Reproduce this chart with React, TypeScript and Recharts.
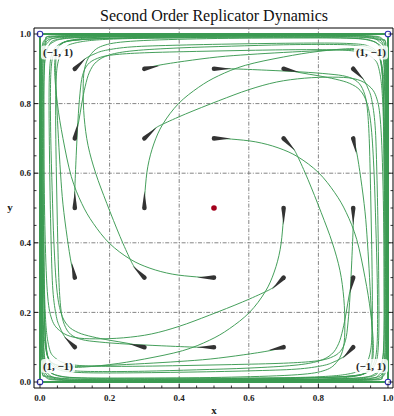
import React from "react";
import {
  ComposedChart,
  Line,
  Scatter,
  XAxis,
  YAxis,
  ReferenceLine,
} from "recharts";

type Pt = [number, number];

// trajectories, named by start point (x*10, y*10)
const path_5_3: Pt[] = [[0.5,0.3],[0.45,0.302],[0.38,0.31],[0.316,0.327],[0.259,0.353],[0.2,0.398],[0.153,0.456],[0.12,0.513],[0.09,0.59],[0.066,0.7],[0.05,0.8],[0.042,0.9],[0.05,0.955],[0.08,0.98],[0.2,0.992],[0.5,0.995],[0.85,0.996],[0.975,0.985],[0.993,0.94],[0.997,0.6]];
const path_3_5: Pt[] = [[0.3,0.5],[0.302,0.55],[0.31,0.62],[0.327,0.684],[0.353,0.741],[0.398,0.8],[0.456,0.847],[0.513,0.88],[0.59,0.91],[0.7,0.934],[0.8,0.95],[0.9,0.958],[0.955,0.95],[0.98,0.92],[0.992,0.8],[0.995,0.5],[0.996,0.15],[0.985,0.025],[0.94,0.007],[0.6,0.003]];
const path_5_7: Pt[] = [[0.5,0.7],[0.55,0.698],[0.62,0.69],[0.684,0.673],[0.741,0.647],[0.8,0.602],[0.847,0.544],[0.88,0.487],[0.91,0.41],[0.934,0.3],[0.95,0.2],[0.958,0.1],[0.95,0.045],[0.92,0.02],[0.8,0.008],[0.5,0.005],[0.15,0.004],[0.025,0.015],[0.007,0.06],[0.003,0.4]];
const path_7_5: Pt[] = [[0.7,0.5],[0.698,0.45],[0.69,0.38],[0.673,0.316],[0.647,0.259],[0.602,0.2],[0.544,0.153],[0.487,0.12],[0.41,0.09],[0.3,0.066],[0.2,0.05],[0.1,0.042],[0.045,0.05],[0.02,0.08],[0.008,0.2],[0.005,0.5],[0.004,0.85],[0.015,0.975],[0.06,0.993],[0.4,0.997]];

const path_3_3: Pt[] = [[0.3,0.3],[0.285,0.315],[0.271,0.331],[0.259,0.353],[0.23,0.418],[0.192,0.513],[0.16,0.6],[0.138,0.68],[0.127,0.76],[0.124,0.84],[0.128,0.9],[0.145,0.94],[0.18,0.966],[0.26,0.979],[0.45,0.986],[0.7,0.989],[0.9,0.988],[0.965,0.975],[0.986,0.94],[0.992,0.8],[0.995,0.4]];
const path_3_7: Pt[] = [[0.3,0.7],[0.315,0.715],[0.331,0.729],[0.353,0.741],[0.418,0.77],[0.513,0.808],[0.6,0.84],[0.68,0.862],[0.76,0.873],[0.84,0.876],[0.9,0.872],[0.94,0.855],[0.966,0.82],[0.979,0.74],[0.986,0.55],[0.989,0.3],[0.988,0.1],[0.975,0.035],[0.94,0.014],[0.8,0.008],[0.4,0.005]];
const path_7_7: Pt[] = [[0.7,0.7],[0.715,0.685],[0.729,0.669],[0.741,0.647],[0.77,0.582],[0.808,0.487],[0.84,0.4],[0.862,0.32],[0.873,0.24],[0.876,0.16],[0.872,0.1],[0.855,0.06],[0.82,0.034],[0.74,0.021],[0.55,0.014],[0.3,0.011],[0.1,0.012],[0.035,0.025],[0.014,0.06],[0.008,0.2],[0.005,0.6]];
const path_7_3: Pt[] = [[0.7,0.3],[0.685,0.285],[0.669,0.271],[0.647,0.259],[0.582,0.23],[0.487,0.192],[0.4,0.16],[0.32,0.138],[0.24,0.127],[0.16,0.124],[0.1,0.128],[0.06,0.145],[0.034,0.18],[0.021,0.26],[0.014,0.45],[0.011,0.7],[0.012,0.9],[0.025,0.965],[0.06,0.986],[0.2,0.992],[0.6,0.995]];

const path_5_1: Pt[] = [[0.5,0.1],[0.45,0.1],[0.35,0.104],[0.25,0.109],[0.17,0.115],[0.12,0.122],[0.088,0.137],[0.07,0.165],[0.06,0.21],[0.054,0.3],[0.05,0.45],[0.047,0.6],[0.045,0.75],[0.046,0.86],[0.052,0.92],[0.068,0.955],[0.1,0.974],[0.2,0.985],[0.45,0.99],[0.75,0.992],[0.93,0.99],[0.978,0.975],[0.99,0.93],[0.994,0.7],[0.996,0.35]];
const path_1_5: Pt[] = [[0.1,0.5],[0.1,0.55],[0.104,0.65],[0.109,0.75],[0.115,0.83],[0.122,0.88],[0.137,0.912],[0.165,0.93],[0.21,0.94],[0.3,0.946],[0.45,0.95],[0.6,0.953],[0.75,0.955],[0.86,0.954],[0.92,0.948],[0.955,0.932],[0.974,0.9],[0.985,0.8],[0.99,0.55],[0.992,0.25],[0.99,0.07],[0.975,0.022],[0.93,0.01],[0.7,0.006],[0.35,0.004]];
const path_5_9: Pt[] = [[0.5,0.9],[0.55,0.9],[0.65,0.896],[0.75,0.891],[0.83,0.885],[0.88,0.878],[0.912,0.863],[0.93,0.835],[0.94,0.79],[0.946,0.7],[0.95,0.55],[0.953,0.4],[0.955,0.25],[0.954,0.14],[0.948,0.08],[0.932,0.045],[0.9,0.026],[0.8,0.015],[0.55,0.01],[0.25,0.008],[0.07,0.01],[0.022,0.025],[0.01,0.07],[0.006,0.3],[0.004,0.65]];
const path_9_5: Pt[] = [[0.9,0.5],[0.9,0.45],[0.896,0.35],[0.891,0.25],[0.885,0.17],[0.878,0.12],[0.863,0.088],[0.835,0.07],[0.79,0.06],[0.7,0.054],[0.55,0.05],[0.4,0.047],[0.25,0.045],[0.14,0.046],[0.08,0.052],[0.045,0.068],[0.026,0.1],[0.015,0.2],[0.01,0.45],[0.008,0.75],[0.01,0.93],[0.025,0.978],[0.07,0.99],[0.3,0.994],[0.65,0.996]];

const path_3_1: Pt[] = [[0.3,0.1],[0.253,0.111],[0.2,0.12],[0.15,0.13],[0.11,0.142],[0.08,0.162],[0.06,0.2],[0.048,0.27],[0.04,0.4],[0.035,0.55],[0.031,0.7],[0.03,0.82],[0.032,0.9],[0.04,0.945],[0.06,0.97],[0.1,0.982],[0.25,0.989],[0.55,0.992],[0.85,0.993],[0.96,0.987],[0.988,0.96],[0.994,0.85],[0.996,0.5]];
const path_1_7: Pt[] = [[0.1,0.7],[0.111,0.747],[0.12,0.8],[0.13,0.85],[0.142,0.89],[0.162,0.92],[0.2,0.94],[0.27,0.952],[0.4,0.96],[0.55,0.965],[0.7,0.969],[0.82,0.97],[0.9,0.968],[0.945,0.96],[0.97,0.94],[0.982,0.9],[0.989,0.75],[0.992,0.45],[0.993,0.15],[0.987,0.04],[0.96,0.012],[0.85,0.006],[0.5,0.004]];
const path_7_9: Pt[] = [[0.7,0.9],[0.747,0.889],[0.8,0.88],[0.85,0.87],[0.89,0.858],[0.92,0.838],[0.94,0.8],[0.952,0.73],[0.96,0.6],[0.965,0.45],[0.969,0.3],[0.97,0.18],[0.968,0.1],[0.96,0.055],[0.94,0.03],[0.9,0.018],[0.75,0.011],[0.45,0.008],[0.15,0.007],[0.04,0.013],[0.012,0.04],[0.006,0.15],[0.004,0.5]];
const path_9_3: Pt[] = [[0.9,0.3],[0.889,0.253],[0.88,0.2],[0.87,0.15],[0.858,0.11],[0.838,0.08],[0.8,0.06],[0.73,0.048],[0.6,0.04],[0.45,0.035],[0.3,0.031],[0.18,0.03],[0.1,0.032],[0.055,0.04],[0.03,0.06],[0.018,0.1],[0.011,0.25],[0.008,0.55],[0.007,0.85],[0.013,0.96],[0.04,0.988],[0.15,0.994],[0.5,0.996]];

const path_7_1: Pt[] = [[0.7,0.1],[0.66,0.09],[0.584,0.078],[0.489,0.066],[0.4,0.059],[0.3,0.053],[0.2,0.048],[0.12,0.045],[0.07,0.046],[0.04,0.052],[0.024,0.068],[0.017,0.1],[0.013,0.2],[0.011,0.45],[0.011,0.7],[0.012,0.88],[0.018,0.945],[0.035,0.975],[0.1,0.989],[0.35,0.994],[0.7,0.996],[0.93,0.995],[0.985,0.985],[0.995,0.94],[0.997,0.7]];
const path_1_3: Pt[] = [[0.1,0.3],[0.09,0.34],[0.078,0.416],[0.066,0.511],[0.059,0.6],[0.053,0.7],[0.048,0.8],[0.045,0.88],[0.046,0.93],[0.052,0.96],[0.068,0.976],[0.1,0.983],[0.2,0.987],[0.45,0.989],[0.7,0.989],[0.88,0.988],[0.945,0.982],[0.975,0.965],[0.989,0.9],[0.994,0.65],[0.996,0.3],[0.995,0.07],[0.985,0.015],[0.94,0.005],[0.7,0.003]];
const path_3_9: Pt[] = [[0.3,0.9],[0.34,0.91],[0.416,0.922],[0.511,0.934],[0.6,0.941],[0.7,0.947],[0.8,0.952],[0.88,0.955],[0.93,0.954],[0.96,0.948],[0.976,0.932],[0.983,0.9],[0.987,0.8],[0.989,0.55],[0.989,0.3],[0.988,0.12],[0.982,0.055],[0.965,0.025],[0.9,0.011],[0.65,0.006],[0.3,0.004],[0.07,0.005],[0.015,0.015],[0.005,0.06],[0.003,0.3]];
const path_9_7: Pt[] = [[0.9,0.7],[0.91,0.66],[0.922,0.584],[0.934,0.489],[0.941,0.4],[0.947,0.3],[0.952,0.2],[0.955,0.12],[0.954,0.07],[0.948,0.04],[0.932,0.024],[0.9,0.017],[0.8,0.013],[0.55,0.011],[0.3,0.011],[0.12,0.012],[0.055,0.018],[0.025,0.035],[0.011,0.1],[0.006,0.35],[0.004,0.7],[0.005,0.93],[0.015,0.985],[0.06,0.995],[0.3,0.997]];

const path_1_1: Pt[] = [[0.1,0.1],[0.085,0.115],[0.071,0.13],[0.058,0.155],[0.047,0.188],[0.037,0.264],[0.032,0.4],[0.028,0.6],[0.026,0.8],[0.028,0.9],[0.035,0.945],[0.055,0.97],[0.1,0.982],[0.2,0.988],[0.4,0.992],[0.7,0.995],[0.9,0.996],[0.97,0.99],[0.99,0.97],[0.995,0.9],[0.997,0.6]];
const path_1_9: Pt[] = [[0.1,0.9],[0.115,0.915],[0.13,0.929],[0.155,0.942],[0.188,0.953],[0.264,0.963],[0.4,0.968],[0.6,0.972],[0.8,0.974],[0.9,0.972],[0.945,0.965],[0.97,0.945],[0.982,0.9],[0.988,0.8],[0.992,0.6],[0.995,0.3],[0.996,0.1],[0.99,0.03],[0.97,0.01],[0.9,0.005],[0.6,0.003]];
const path_9_9: Pt[] = [[0.9,0.9],[0.915,0.885],[0.929,0.87],[0.942,0.845],[0.953,0.812],[0.963,0.736],[0.968,0.6],[0.972,0.4],[0.974,0.2],[0.972,0.1],[0.965,0.055],[0.945,0.03],[0.9,0.018],[0.8,0.012],[0.6,0.008],[0.3,0.005],[0.1,0.004],[0.03,0.01],[0.01,0.03],[0.005,0.1],[0.003,0.4]];
const path_9_1: Pt[] = [[0.9,0.1],[0.885,0.085],[0.87,0.071],[0.845,0.058],[0.812,0.047],[0.736,0.037],[0.6,0.032],[0.4,0.028],[0.2,0.026],[0.1,0.028],[0.055,0.035],[0.03,0.055],[0.018,0.1],[0.012,0.2],[0.008,0.4],[0.005,0.7],[0.004,0.9],[0.01,0.97],[0.03,0.99],[0.1,0.995],[0.4,0.997]];

const trajectories: Pt[][] = [
  path_5_3, path_3_5, path_5_7, path_7_5,
  path_3_3, path_3_7, path_7_7, path_7_3,
  path_5_1, path_1_5, path_5_9, path_9_5,
  path_3_1, path_1_7, path_7_9, path_9_3,
  path_7_1, path_1_3, path_3_9, path_9_7,
  path_1_1, path_1_9, path_9_9, path_9_1,
];

// the heteroclinic cycle on the edges
const boundaryX = [0, 0, 1, 1, 0];
const boundaryY = [0, 1, 1, 0, 0];

// comet arrows: head position and short forward offset
const cometX = [0.1, 0.3, 0.5, 0.7, 0.9, 0.1, 0.3, 0.5, 0.7, 0.9, 0.1, 0.3, 0.7, 0.9, 0.1, 0.3, 0.5, 0.7, 0.9, 0.1, 0.3, 0.5, 0.7, 0.9];
const cometY = [0.1, 0.1, 0.1, 0.1, 0.1, 0.3, 0.3, 0.3, 0.3, 0.3, 0.5, 0.5, 0.5, 0.5, 0.7, 0.7, 0.7, 0.7, 0.7, 0.9, 0.9, 0.9, 0.9, 0.9];
const cometDX = [-0.031, -0.044, -0.049, -0.044, -0.031, -0.009, -0.034, -0.048, -0.034, -0.009, 0, 0, 0, 0, 0.009, 0.036, 0.048, 0.034, 0.009, 0.032, 0.044, 0.049, 0.044, 0.032];
const cometDY = [0.031, 0.009, 0, -0.009, -0.033, 0.044, 0.034, 0, -0.034, -0.044, 0.049, 0.048, -0.048, -0.049, 0.044, 0.032, 0, -0.036, -0.044, 0.031, 0.009, 0, -0.009, -0.033];

const cornerX = [0, 0, 1, 1];
const cornerY = [0, 1, 1, 0];
const cornerLabels = ["(1, \u22121)", "(\u22121, 1)", "(1, \u22121)", "(\u22121, 1)"];
const restPointX = [0.5];
const restPointY = [0.5];

const gridValues = [0.2, 0.4, 0.6, 0.8];
const tickValues = [0, 0.05, 0.1, 0.15, 0.2, 0.25, 0.3, 0.35, 0.4, 0.45, 0.5, 0.55, 0.6, 0.65, 0.7, 0.75, 0.8, 0.85, 0.9, 0.95, 1];
const majorTicks = [0, 0.2, 0.4, 0.6, 0.8, 1];
const tickLabels = ["0.0", "0.2", "0.4", "0.6", "0.8", "1.0"];

const W = 394;
const H = 416;
const M = { top: 27, right: 0, bottom: 27, left: 33 };
const X_DOMAIN: [number, number] = [-0.01724, 1.01437];
const Y_DOMAIN: [number, number] = [-0.01724, 1.01724];
const PX_X = 359 / (X_DOMAIN[1] - X_DOMAIN[0]);
const PX_Y = 360 / (Y_DOMAIN[1] - Y_DOMAIN[0]);

const GREEN = "#3b9a52";
const SERIF = "'Liberation Serif', 'DejaVu Serif', serif";

// Catmull-Rom through the read points, so corners are not cut off
function catmullRom(context: any) {
  let pts: [number, number][] = [];
  return {
    areaStart() {},
    areaEnd() {},
    lineStart() {
      pts = [];
    },
    lineEnd() {
      if (!pts.length) return;
      context.moveTo(pts[0][0], pts[0][1]);
      for (let i = 0; i < pts.length - 1; i++) {
        const p0 = pts[i - 1] || pts[i];
        const p1 = pts[i];
        const p2 = pts[i + 1];
        const p3 = pts[i + 2] || p2;
        context.bezierCurveTo(
          p1[0] + (p2[0] - p0[0]) / 6, p1[1] + (p2[1] - p0[1]) / 6,
          p2[0] - (p3[0] - p1[0]) / 6, p2[1] - (p3[1] - p1[1]) / 6,
          p2[0], p2[1]
        );
      }
    },
    point(x: number, y: number) {
      pts.push([+x, +y]);
    },
  };
}

const majorIndex = (v: number) => majorTicks.findIndex((m) => Math.abs(m - v) < 1e-6);

function BottomTick(p: any) {
  const i = majorIndex(p.payload.value);
  return (
    <g>
      <line x1={p.x} y1={p.y} x2={p.x} y2={p.y - (i >= 0 ? 4.5 : 2.5)} stroke="#000" strokeWidth={0.8} />
      {i >= 0 && (
        <text x={p.x} y={p.y + 12.5} textAnchor="middle" fontFamily={SERIF} fontWeight={700} fontSize={9} fill="#222">
          {tickLabels[i]}
        </text>
      )}
    </g>
  );
}

function TopTick(p: any) {
  const i = majorIndex(p.payload.value);
  return <line x1={p.x} y1={p.y} x2={p.x} y2={p.y + (i >= 0 ? 4.5 : 2.5)} stroke="#000" strokeWidth={0.8} />;
}

function LeftTick(p: any) {
  const i = majorIndex(p.payload.value);
  return (
    <g>
      <line x1={p.x} y1={p.y} x2={p.x + (i >= 0 ? 4.5 : 2.5)} y2={p.y} stroke="#000" strokeWidth={0.8} />
      {i >= 0 && (
        <text x={p.x - 3} y={p.y + 3.2} textAnchor="end" fontFamily={SERIF} fontWeight={700} fontSize={9} fill="#222">
          {tickLabels[i]}
        </text>
      )}
    </g>
  );
}

function RightTick(p: any) {
  const i = majorIndex(p.payload.value);
  return <line x1={p.x} y1={p.y} x2={p.x - (i >= 0 ? 4.5 : 2.5)} y2={p.y} stroke="#000" strokeWidth={0.8} />;
}

function Comet(p: any) {
  const d = p.payload;
  const { cx, cy } = p;
  const tx = cx + d.dx * PX_X;
  const ty = cy - d.dy * PX_Y;
  const ang = Math.atan2(ty - cy, tx - cx);
  const w = 2.3;
  const nx = -Math.sin(ang) * w;
  const ny = Math.cos(ang) * w;
  const path = `M${cx + nx},${cy + ny} L${tx},${ty} L${cx - nx},${cy - ny} A${w},${w} 0 0 0 ${cx + nx},${cy + ny} Z`;
  return <path d={path} fill="#333" />;
}

function Corner(p: any) {
  const d = p.payload;
  const { cx, cy } = p;
  const lx = cx + (d.x < 0.5 ? 18 : -17);
  const ly = cy + (d.y > 0.5 ? 18.5 : -16);
  return (
    <g>
      <rect x={lx - 17} y={ly - 7} width={34} height={14} rx={3} fill="#fff" fillOpacity={0.85} />
      <text x={lx} y={ly + 3.8} textAnchor="middle" fontFamily={SERIF} fontWeight={700} fontSize={11} fill="#222">
        {d.label}
      </text>
      <circle cx={cx} cy={cy} r={2.8} fill="#fff" stroke="#3030b0" strokeWidth={1.1} />
    </g>
  );
}

function RestPoint(p: any) {
  return <circle cx={p.cx} cy={p.cy} r={2.8} fill="#a3001c" />;
}

export default function App() {
  const lines = trajectories.map((t) => t.map(([x, y]) => ({ x, y })));
  const boundary = boundaryX.map((x, i) => ({ x, y: boundaryY[i] }));
  const comets = cometX.map((x, i) => ({ x, y: cometY[i], dx: cometDX[i], dy: cometDY[i] }));
  const corners = cornerX.map((x, i) => ({ x, y: cornerY[i], label: cornerLabels[i] }));
  const rest = restPointX.map((x, i) => ({ x, y: restPointY[i] }));

  return (
    <div style={{ position: "absolute", left: 0, top: 0, width: W, height: H, background: "#fff" }}>
      <ComposedChart width={W} height={H} margin={M}>
        <XAxis
          dataKey="x" type="number" domain={X_DOMAIN} allowDataOverflow ticks={tickValues} interval={0}
          height={1} tickSize={0} tickMargin={0} tickLine={false} axisLine={{ stroke: "#000" }}
          tick={(p: any) => <BottomTick {...p} />}
        />
        <XAxis
          xAxisId="top" orientation="top" type="number" domain={X_DOMAIN} allowDataOverflow ticks={tickValues} interval={0}
          height={1} tickSize={0} tickMargin={0} tickLine={false} axisLine={{ stroke: "#000" }}
          tick={(p: any) => <TopTick {...p} />}
        />
        <YAxis
          dataKey="y" type="number" domain={Y_DOMAIN} allowDataOverflow ticks={tickValues} interval={0}
          width={1} tickSize={0} tickMargin={0} tickLine={false} axisLine={{ stroke: "#000" }}
          tick={(p: any) => <LeftTick {...p} />}
        />
        <YAxis
          yAxisId="right" orientation="right" type="number" domain={Y_DOMAIN} allowDataOverflow ticks={tickValues} interval={0}
          width={1} tickSize={0} tickMargin={0} tickLine={false} axisLine={{ stroke: "#000" }}
          tick={(p: any) => <RightTick {...p} />}
        />
        {gridValues.map((v) => (
          <ReferenceLine key={`gx${v}`} x={v} stroke="#777" strokeWidth={0.9} strokeDasharray="4 1.6 1 1.6" />
        ))}
        {gridValues.map((v) => (
          <ReferenceLine key={`gy${v}`} y={v} stroke="#777" strokeWidth={0.9} strokeDasharray="4 1.6 1 1.6" />
        ))}
        {lines.map((d, i) => (
          <Line
            key={`traj${i}`} data={d} dataKey="y" type={catmullRom as any} dot={false} activeDot={false}
            stroke={GREEN} strokeWidth={0.95} isAnimationActive={false}
          />
        ))}
        <Line data={boundary} dataKey="y" type="linear" dot={false} activeDot={false} stroke={GREEN} strokeWidth={2} isAnimationActive={false} />
        <Scatter data={comets} shape={(p: any) => <Comet {...p} />} isAnimationActive={false} />
        <Scatter data={rest} shape={(p: any) => <RestPoint {...p} />} isAnimationActive={false} />
        <Scatter data={corners} shape={(p: any) => <Corner {...p} />} isAnimationActive={false} />
      </ComposedChart>
      <svg width={W} height={H} style={{ position: "absolute", left: 0, top: 0, pointerEvents: "none" }}>
        <text x={214} y={21} textAnchor="middle" fontFamily={SERIF} fontSize={16} fill="#111">
          Second Order Replicator Dynamics
        </text>
        <text x={214} y={414} textAnchor="middle" fontFamily={SERIF} fontWeight={700} fontSize={11} fill="#222">
          x
        </text>
        <text x={10} y={211} textAnchor="middle" fontFamily={SERIF} fontWeight={700} fontSize={11} fill="#222">
          y
        </text>
      </svg>
    </div>
  );
}
